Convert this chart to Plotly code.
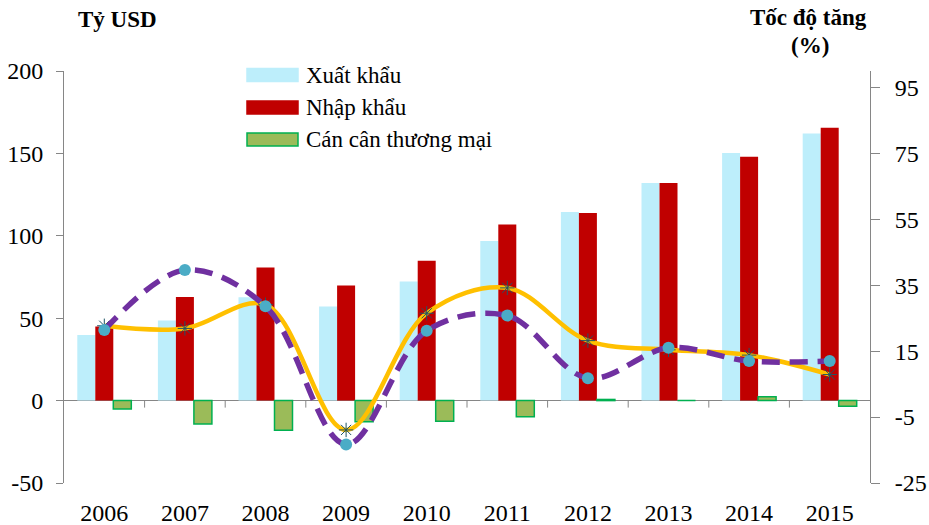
import plotly.graph_objects as go

years = ["2006", "2007", "2008", "2009", "2010", "2011", "2012", "2013", "2014", "2015"]
exports = [39.8, 48.6, 62.7, 57.1, 72.2, 96.9, 114.5, 132.0, 150.2, 162.1]
imports = [44.9, 62.8, 80.7, 69.9, 84.8, 106.8, 113.8, 132.0, 148.0, 165.6]
balance = [-5.1, -14.2, -18.0, -12.9, -12.6, -9.8, 0.7, 0.0, 2.4, -3.5]
export_growth = [22.7, 21.9, 29.1, -8.9, 26.5, 34.2, 18.2, 15.4, 13.8, 7.9]
import_growth = [21.4, 39.6, 28.6, -13.3, 21.2, 25.8, 6.8, 16.0, 12.0, 12.0]
series_names = ["Xuất khẩu", "Nhập khẩu", "Cán cân thương mại"]
left_ticks = [-50, 0, 50, 100, 150, 200]
right_ticks = [-25, -5, 15, 35, 55, 75, 95]

FONT = "Times New Roman, Liberation Serif, Tinos, DejaVu Serif, serif"
GRAY = "#868686"
C_EXP = "#BDEEFB"
C_IMP = "#C00000"
C_BAL = "#9BBB59"
C_BAL_LINE = "#00B050"

W, H = 929, 525
ML, MR, MT, MB = 64, 59, 71, 42
PW, PH = W - ML - MR, H - MT - MB


def px(x):
    return (x - ML) / PW


def py(y):
    return (H - MB - y) / PH


fig = go.Figure()
fig.add_trace(go.Bar(x=years, y=exports, name=series_names[0], marker=dict(color=C_EXP, line=dict(width=0)),
                     showlegend=False))
fig.add_trace(go.Bar(x=years, y=imports, name=series_names[1], marker=dict(color=C_IMP, line=dict(width=0)),
                     showlegend=False))
fig.add_trace(go.Bar(x=years, y=balance, name=series_names[2],
                     marker=dict(color=C_BAL, line=dict(color=C_BAL_LINE, width=1.5)), showlegend=False))

fig.add_trace(go.Scatter(x=years, y=export_growth, yaxis="y2", mode="lines+markers",
                         line=dict(color="#FFC000", width=4.5, shape="spline", smoothing=1),
                         marker=dict(symbol="asterisk-open", size=12, color="#1F5566",
                                     line=dict(color="#1F5566", width=1)),
                         showlegend=False))
fig.add_trace(go.Scatter(x=years, y=import_growth, yaxis="y2", mode="lines+markers",
                         line=dict(color="#7030A0", width=5.5, shape="spline", smoothing=1, dash="18px,10px"),
                         marker=dict(symbol="circle", size=12, color="#4BACC6", line=dict(width=0)),
                         showlegend=False))

shapes = []
for i in range(len(years) - 1):
    shapes.append(dict(type="line", xref="x", yref="y", ysizemode="pixel", yanchor=0,
                       x0=i + 0.5, x1=i + 0.5, y0=0, y1=-7, line=dict(color=GRAY, width=1)))

legend_colors = [(C_EXP, C_EXP), (C_IMP, C_IMP), (C_BAL, C_BAL_LINE)]
legend_rows = [75, 107.5, 139.5]
annotations = []
for name, (fc, lc), ry in zip(series_names, legend_colors, legend_rows):
    shapes.append(dict(type="rect", xref="paper", yref="paper",
                       x0=px(247), x1=px(298), y0=py(ry - 6.5), y1=py(ry + 6.5),
                       fillcolor=fc, line=dict(color=lc, width=1.5)))
    annotations.append(dict(text=name, xref="paper", yref="paper", x=px(304), y=py(ry),
                            xanchor="left", yanchor="middle", showarrow=False,
                            font=dict(family=FONT, size=23, color="black")))

annotations.append(dict(text="<b>Tỷ USD</b>", xref="paper", yref="paper", x=px(117), y=py(20),
                        xanchor="center", yanchor="middle", showarrow=False,
                        font=dict(family=FONT, size=23, color="black")))
annotations.append(dict(text="<b>Tốc độ tăng</b>", xref="paper", yref="paper", x=px(808), y=py(17),
                        xanchor="center", yanchor="middle", showarrow=False,
                        font=dict(family=FONT, size=23, color="black")))
annotations.append(dict(text="<b>(%)</b>", xref="paper", yref="paper", x=px(810), y=py(46),
                        xanchor="center", yanchor="middle", showarrow=False,
                        font=dict(family=FONT, size=23, color="black")))

tickfont = dict(family=FONT, size=24, color="black")
fig.update_layout(
    width=W, height=H, autosize=False,
    margin=dict(l=ML, r=MR, t=MT, b=MB, pad=0, autoexpand=False),
    paper_bgcolor="white", plot_bgcolor="white",
    barmode="group", bargap=0.33, bargroupgap=0,
    font=dict(family=FONT, size=22, color="black"),
    showlegend=False,
    shapes=shapes, annotations=annotations,
    xaxis=dict(type="category", range=[-0.5, 9.5], showgrid=False, showline=False, ticks="",
               automargin=False, ticklabelstandoff=13, tickfont=tickfont),
    yaxis=dict(range=[-50, 200], tickvals=left_ticks, ticktext=[str(v) for v in left_ticks],
               showgrid=False, showline=True, linecolor=GRAY, automargin=False,
               linewidth=1, ticks="outside", ticklen=7, tickcolor=GRAY, zeroline=True, zerolinecolor=GRAY,
               zerolinewidth=1, ticklabelstandoff=8, tickfont=tickfont),
    yaxis2=dict(range=[-25, 100], tickvals=right_ticks, ticktext=[str(v) for v in right_ticks],
                overlaying="y", side="right", showgrid=False, automargin=False,
                showline=True, linecolor=GRAY, linewidth=1, ticks="outside", ticklen=9, tickcolor=GRAY,
                zeroline=False, ticklabelstandoff=10, tickfont=tickfont),
)

fig.write_html("out.html", config={"displayModeBar": False},
               post_script="document.body.style.margin='0';document.body.style.overflow='hidden';")
